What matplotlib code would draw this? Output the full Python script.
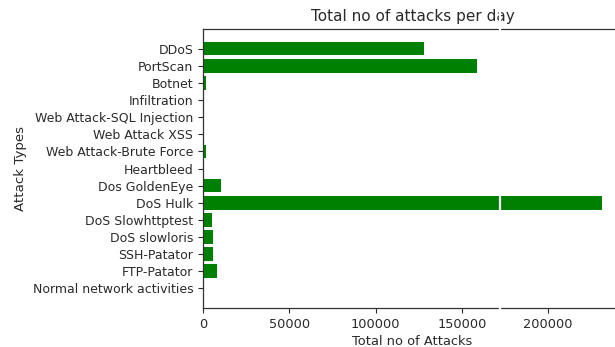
import matplotlib
matplotlib.use("Agg")
import matplotlib.pyplot as plt
from matplotlib.lines import Line2D

# Attack categories, listed bottom to top as drawn on the y axis
attack_types = [
    "Normal network activities",
    "FTP-Patator",
    "SSH-Patator",
    "DoS slowloris",
    "DoS Slowhttptest",
    "DoS Hulk",
    "Dos GoldenEye",
    "Heartbleed",
    "Web Attack-Brute Force",
    "Web Attack XSS",
    "Web Attack-SQL Injection",
    "Infiltration",
    "Botnet",
    "PortScan",
    "DDoS",
]

# Number of recorded attacks for each category
attack_counts = [
    0,
    7938,
    5897,
    5796,
    5499,
    231073,
    10293,
    11,
    1507,
    652,
    21,
    36,
    1966,
    158930,
    128027,
]

x_ticks = [0, 50000, 100000, 150000, 200000]

W, H = 615, 347
fig = plt.figure(figsize=(W / 100, H / 100), dpi=100)
ax = fig.add_axes([203 / W, 1 - 308 / H, (621.8 - 203) / W, (308 - 29) / H])

text_color = "#2a2a2a"
ax.barh(attack_types, attack_counts, color="green", height=0.8)

ax.set_xticks(x_ticks)
ax.set_xticklabels([str(t) for t in x_ticks])
ax.tick_params(axis="x", labelsize=9.3, colors=text_color, length=3.5)
ax.tick_params(axis="y", labelsize=9.0, colors=text_color, length=3.5)
for s in ax.spines.values():
    s.set_color("#333333")
    s.set_linewidth(0.9)

ax.set_title("Total no of attacks per day", fontsize=11, color=text_color, pad=6)
ax.set_xlabel("Total no of Attacks", fontsize=9.4, color=text_color, labelpad=3)
ax.set_ylabel("Attack Types", fontsize=9.6, color=text_color, labelpad=4)

# thin white divider running down the figure
fig.add_artist(Line2D([500 / W, 500 / W], [0, 1], transform=fig.transFigure,
                      color="white", linewidth=1.6))

fig.savefig("out.png", dpi=100)
